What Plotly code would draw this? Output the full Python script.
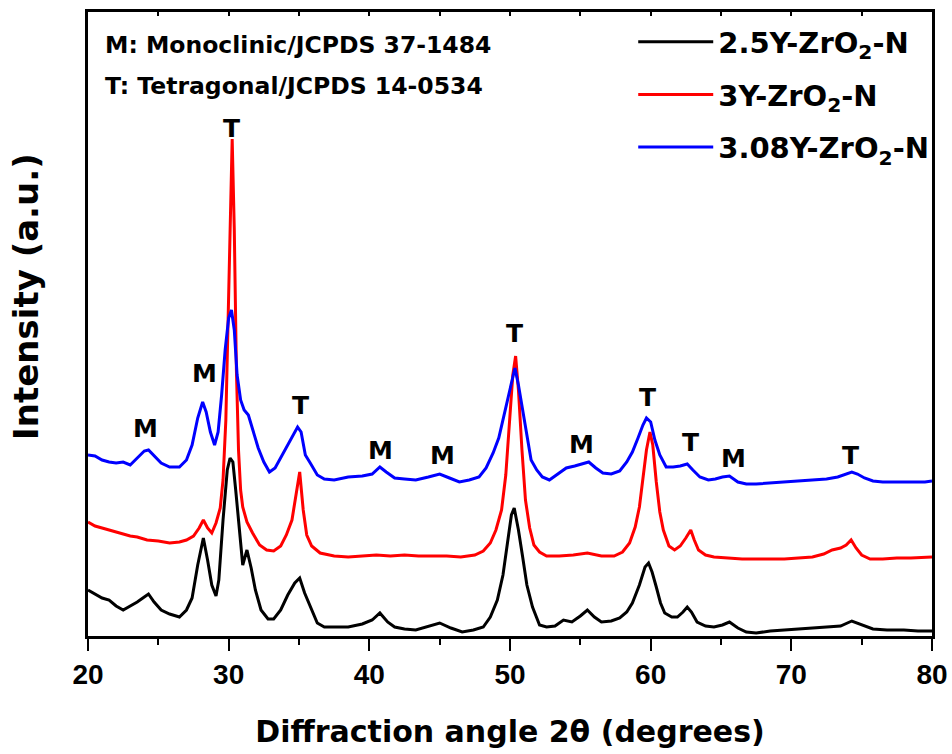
import plotly.graph_objects as go

# ---------------- data ----------------
# y in arbitrary intensity units (offset stacked patterns)
x_25Y = [20.0, 20.5, 21.0, 21.5, 22.0, 22.5, 23.0, 23.5, 24.0, 24.3, 24.7, 25.2, 25.8, 26.5, 27.0, 27.4,
         27.8, 28.2, 28.5, 28.8, 29.1, 29.3, 29.6, 29.9, 30.1, 30.3, 30.5, 30.8, 31.0, 31.3, 31.6, 31.9,
         32.3, 32.8, 33.2, 33.7, 34.2, 34.7, 35.05, 35.4, 35.8, 36.3, 36.8, 37.5, 38.5, 39.5, 40.2, 40.75,
         41.3, 41.8, 42.5, 43.3, 44.2, 45.0, 45.8, 46.6, 47.4, 48.1, 48.6, 49.1, 49.5, 49.8, 50.1, 50.3,
         50.6, 50.9, 51.2, 51.6, 52.1, 52.6, 53.2, 53.8, 54.4, 55.0, 55.5, 56.0, 56.5, 57.2, 57.8, 58.3,
         58.7, 59.2, 59.6, 59.85, 60.1, 60.4, 60.7, 61.0, 61.5, 61.9, 62.3, 62.6, 62.9, 63.3, 63.9, 64.5,
         65.1, 65.6, 66.2, 66.8, 67.5, 68.5, 69.5, 70.5, 71.5, 72.5, 73.5, 74.3, 75.0, 75.8, 76.8, 78.0,
         79.0, 80.0]
y_25Y = [46, 42, 38, 36, 30, 26, 30, 34, 39, 42, 34, 26, 22, 19, 26, 38,
         71, 98, 76, 51, 40, 56, 116, 166, 178, 174, 146, 96, 71, 86, 68, 46,
         26, 17, 17, 26, 41, 53, 58, 43, 29, 13, 9, 9, 9, 12, 16, 23,
         14, 9, 7, 6, 10, 13, 8, 4, 6, 9, 19, 36, 61, 89, 121, 128,
         106, 79, 51, 29, 11, 9, 10, 16, 14, 20, 26, 19, 14, 15, 18, 24,
         33, 51, 69, 73, 64, 49, 33, 23, 19, 19, 24, 29, 24, 14, 10, 9,
         11, 14, 8, 4, 3, 5, 6, 7, 8, 9, 10, 15, 11, 7, 6, 6,
         5, 5]

x_3Y = [20.0, 20.5, 21.0, 21.5, 22.0, 22.5, 23.0, 23.5, 24.2, 25.0, 25.8, 26.5, 27.0, 27.5, 27.9, 28.2,
        28.5, 28.8, 29.1, 29.4, 29.6, 29.8, 29.95, 30.1, 30.25, 30.4, 30.55, 30.7, 30.85, 31.0, 31.3, 31.7,
        32.2, 32.7, 33.2, 33.7, 34.1, 34.5, 34.8, 35.05, 35.3, 35.55, 35.9, 36.5, 37.5, 38.5, 39.5, 40.5,
        41.5, 42.5, 43.5, 44.5, 45.5, 46.5, 47.5, 48.1, 48.6, 49.0, 49.4, 49.7, 50.0, 50.2, 50.4, 50.6,
        50.85, 51.1, 51.4, 51.7, 52.1, 52.6, 53.5, 54.5, 55.5, 56.5, 57.4, 58.0, 58.5, 58.9, 59.2, 59.45,
        59.7, 59.95, 60.15, 60.4, 60.65, 60.9, 61.3, 61.7, 62.1, 62.5, 62.85, 63.1, 63.4, 63.9, 64.5, 65.5,
        66.5, 67.5, 68.5, 69.5, 70.5, 71.5, 72.3, 72.9, 73.5, 73.9, 74.25, 74.6, 75.0, 75.6, 76.5, 77.5,
        78.5, 79.5, 80.0]
y_3Y = [114, 110, 108, 106, 104, 102, 100, 99, 96, 95, 93, 94, 96, 100, 108, 116,
        108, 103, 113, 128, 156, 216, 306, 416, 497, 406, 266, 186, 146, 129, 114, 103,
        91, 86, 85, 90, 101, 116, 141, 164, 126, 101, 90, 83, 80, 79, 80, 81,
        80, 81, 80, 80, 80, 79, 81, 85, 93, 106, 126, 161, 216, 261, 280, 246,
        186, 136, 108, 91, 84, 80, 80, 81, 83, 80, 80, 84, 93, 109, 129, 156,
        186, 204, 191, 154, 124, 106, 90, 86, 90, 98, 106, 96, 86, 81, 79, 78,
        77, 77, 77, 77, 78, 79, 82, 86, 88, 91, 96, 88, 81, 77, 77, 78,
        78, 79, 79]

x_308Y = [20.0, 20.5, 21.0, 21.5, 22.0, 22.5, 23.0, 23.5, 24.0, 24.3, 24.7, 25.2, 25.8, 26.5, 27.0, 27.4,
          27.8, 28.15, 28.4, 28.7, 29.0, 29.25, 29.5, 29.75, 30.0, 30.2, 30.4, 30.6, 30.85, 31.1, 31.4, 31.7,
          32.1, 32.5, 32.9, 33.3, 33.7, 34.1, 34.5, 34.9, 35.15, 35.45, 35.8, 36.3, 36.8, 37.5, 38.5, 39.5,
          40.2, 40.75, 41.2, 41.8, 42.5, 43.3, 44.2, 45.0, 45.7, 46.4, 47.1, 47.8, 48.3, 48.8, 49.2, 49.5,
          49.9, 50.2, 50.35, 50.6, 50.9, 51.2, 51.5, 51.9, 52.3, 52.8, 53.4, 54.0, 54.6, 55.1, 55.6, 56.1,
          56.6, 57.2, 57.8, 58.3, 58.7, 59.1, 59.45, 59.7, 60.0, 60.3, 60.65, 61.1, 61.6, 62.1, 62.6, 63.0,
          63.5, 64.1, 64.6, 65.1, 65.6, 66.2, 66.8, 67.5, 68.5, 69.5, 70.5, 71.5, 72.5, 73.3, 74.0, 74.3,
          74.7, 75.2, 75.8, 76.5, 77.5, 78.5, 79.5, 80.0]
y_308Y = [181, 180, 176, 174, 173, 174, 171, 178, 185, 186, 180, 173, 169, 169, 176, 191,
          218, 234, 224, 204, 191, 204, 241, 286, 318, 326, 306, 261, 236, 226, 221, 206,
          188, 174, 164, 168, 178, 189, 198, 209, 204, 181, 173, 161, 157, 156, 159, 160,
          162, 169, 164, 158, 157, 156, 159, 162, 158, 154, 156, 159, 168, 183, 198, 216,
          241, 258, 268, 251, 226, 198, 176, 166, 159, 156, 162, 168, 170, 172, 174, 168,
          163, 162, 165, 174, 184, 198, 211, 218, 214, 196, 181, 169, 169, 170, 172, 166,
          159, 156, 157, 159, 160, 154, 152, 152, 153, 154, 155, 156, 157, 159, 163, 164,
          162, 158, 155, 154, 154, 154, 154, 155]

series_names = ["2.5Y-ZrO<sub>2</sub>-N", "3Y-ZrO<sub>2</sub>-N", "3.08Y-ZrO<sub>2</sub>-N"]
series_colors = ["#000000", "#ff0000", "#0000ff"]

# phase labels: (label, 2theta, intensity position)
peak_labels = ["M", "M", "T", "T", "M", "M", "T", "M", "T", "T", "M", "T"]
peak_x = [24.1, 28.3, 30.2, 35.1, 40.8, 45.2, 50.3, 55.1, 59.8, 62.8, 65.9, 74.2]
peak_y = [208, 263, 508, 231, 186, 181, 303, 192, 239, 194, 178, 181]

legend_notes = ["M: Monoclinic/JCPDS 37-1484", "T: Tetragonal/JCPDS 14-0534"]

x_title = "Diffraction angle 2θ (degrees)"
y_title = "Intensity (a.u.)"

# ---------------- figure ----------------
WIDE = "DejaVu Sans, sans-serif"
ARIAL = "Liberation Sans, Arial, sans-serif"
fig = go.Figure()
for xs, ys, nm, col in zip([x_25Y, x_3Y, x_308Y], [y_25Y, y_3Y, y_308Y], series_names, series_colors):
    fig.add_trace(go.Scatter(x=xs, y=ys, mode="lines", name="<b>" + nm + "</b>",
                             line=dict(color=col, width=3), legendgroup=nm))

for lab, px_, py_ in zip(peak_labels, peak_x, peak_y):
    fig.add_annotation(x=px_, y=py_, text="<b>" + lab + "</b>", showarrow=False,
                       font=dict(family=WIDE, size=25, color="black"), xref="x", yref="y")

for i, note in enumerate(legend_notes):
    fig.add_annotation(x=0.0178, y=0.947 - i * 0.066, xref="paper", yref="paper", xanchor="left",
                       yanchor="middle", text="<b>" + note + "</b>", showarrow=False,
                       font=dict(family=WIDE, size=23.5, color="black"))

# y-axis title (placed off-centre as in the reference)
fig.add_annotation(x=-0.0735, y=0.545, xref="paper", yref="paper", xanchor="center", yanchor="middle",
                   text="<b>" + y_title + "</b>", textangle=-90, showarrow=False,
                   font=dict(family=WIDE, size=34, color="black"))

fig.update_layout(
    width=952, height=754,
    margin=dict(l=88, r=20, t=12, b=118, autoexpand=False),
    plot_bgcolor="white", paper_bgcolor="white",
    font=dict(family=ARIAL, color="black"),
    showlegend=True,
    legend=dict(x=0.646, y=0.993, xanchor="left", yanchor="top", bgcolor="rgba(0,0,0,0)",
                font=dict(family=WIDE, size=29, color="black"), tracegroupgap=12,
                itemwidth=75),
    xaxis=dict(range=[20, 80], dtick=10, tick0=20, showline=True, linewidth=2.5, linecolor="black",
               mirror=True, ticks="outside", ticklen=12, tickwidth=2, tickcolor="black",
               showgrid=False, zeroline=False, automargin=False,
               tickfont=dict(family=ARIAL, size=28, color="black"),
               minor=dict(dtick=5, ticks="outside", ticklen=6, tickwidth=2, tickcolor="black"),
               title=dict(text="<b>" + x_title + "</b>", standoff=32,
                          font=dict(family=WIDE, size=30, color="black")),
               tickprefix="<b>", ticksuffix="</b>"),
    yaxis=dict(range=[0, 624], showline=True, linewidth=2.5, linecolor="black", mirror=True,
               ticks="", showticklabels=False, showgrid=False, zeroline=False, automargin=False),
    xaxis2=dict(range=[20, 80], overlaying="x", side="top", dtick=5, tick0=20, ticks="inside",
                ticklen=4, tickwidth=1.5, tickcolor="black", showticklabels=False, showgrid=False,
                zeroline=False, showline=False, automargin=False),
)
fig.add_trace(go.Scatter(x=[20, 80], y=[-100, -100], xaxis="x2", yaxis="y", mode="lines",
                         line=dict(width=0), showlegend=False, hoverinfo="skip"))

fig.write_html("out.html", config={"displayModeBar": False},
               post_script="document.body.style.margin='0';document.body.style.overflow='hidden';")
